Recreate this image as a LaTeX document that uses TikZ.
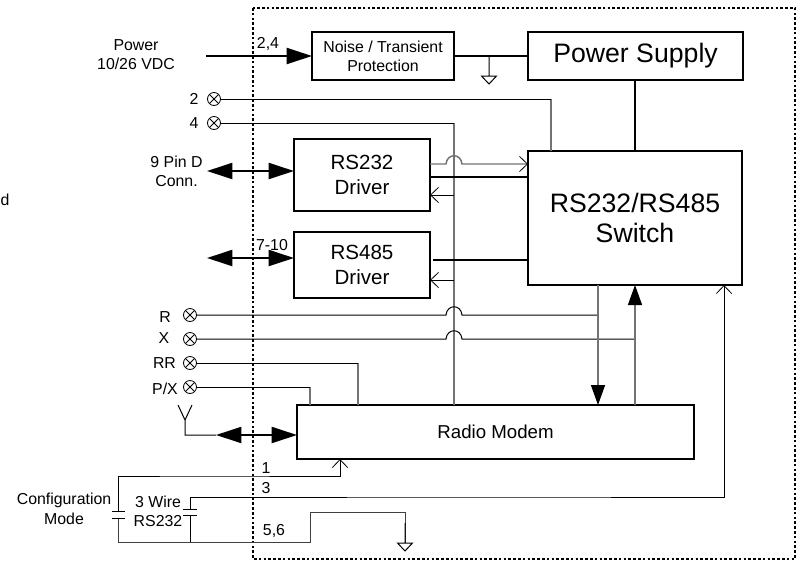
\documentclass[tikz,border=0pt]{standalone}
\usepackage{fontspec}
\setmainfont{Liberation Sans}
\usetikzlibrary{arrows.meta}
\newcommand{\hop}[1]{-- (446,#1) .. controls +(1,-11) and +(-1,-11) .. (462,#1)}

\begin{document}
\begin{tikzpicture}[x=0.75pt, y=-0.75pt,
    main/.style = {draw, line width=1.5pt, inner sep=0pt, outer sep=0pt, align=center},
    drv/.style = {main, minimum width=102pt, minimum height=54pt, font=\fontsize{15.4}{19}\selectfont},
    lbl/.style = {inner sep=0pt, align=center, font=\fontsize{11.9}{14.3}\selectfont},
    pinx/.style = {draw, circle, line width=0.6pt, minimum size=9.75pt, inner sep=0pt, outer sep=0pt,
        path picture={\draw (path picture bounding box.north west) -- (path picture bounding box.south east)
            (path picture bounding box.north east) -- (path picture bounding box.south west);}},
    thin line/.style = {line width=0.75pt},
    gray line/.style = {line width=1.1pt, black!55},
    bold line/.style = {line width=1.5pt},
    open/.style = {-{Straight Barb[length=6pt, width=11.5pt, line width=0.6pt, black]}},
    fat/.style = {-{Triangle[length=15pt, width=10.5pt, black]}},
    fatone/.style = {-{Triangle[length=19pt, width=12pt]}, line width=1.5pt},
    fatboth/.style = {{Triangle[length=19pt, width=12pt]}-{Triangle[length=19pt, width=12pt]}, line width=1.5pt},
    gnd/.pic = {\draw[line width=0.75pt, line join=miter] (0,0) -- (0,20) (-7.5,20) -- (7.5,20) -- (0,28) -- cycle;},
    plate/.style = {line width=0.75pt}]
    \useasboundingbox (0,0) rectangle (796,561);

    \draw[line width=1.5pt, dash pattern=on 1.9pt off 1.7pt] (253,8) rectangle (795,559);

    \node[main, minimum width=106.5pt, minimum height=36pt, font=\fontsize{11.9}{14.3}\selectfont] (noise) at (383,56) {Noise / Transient\\Protection};
    \node[main, minimum width=161.25pt, minimum height=36pt, font=\fontsize{20}{24}\selectfont] (supply) [right of=noise, node distance=189.4pt] {Power Supply};
    \node[drv] (rs232) at (362,175) {RS232\\Driver};
    \node[drv, minimum height=49.5pt] (rs485) [below of=rs232, node distance=67.5pt] {RS485\\Driver};
    \node[main, minimum width=160.5pt, minimum height=100.5pt, font=\fontsize{20}{23}\selectfont] (switch) at (635,218) {RS232/RS485\\Switch};
    \node[main, minimum width=297.75pt, minimum height=40.5pt, font=\fontsize{14}{17}\selectfont] (modem) at (495.5,432) {Radio Modem};

    \node[pinx] (pin2) at (214,99) {};
    \node[pinx] (pin4) [below of=pin2, node distance=18pt] {};
    \node[pinx] (pinR) at (190,315) {};
    \node[pinx] (pinX)  [below of=pinR, node distance=18pt] {};
    \node[pinx] (pinRR) [below of=pinX, node distance=18pt] {};
    \node[pinx] (pinPX) [below of=pinRR, node distance=18pt] {};

    \node[lbl] (l2) [left of=pin2, node distance=15pt] {2};
    \node[lbl] (l4) [left of=pin4, node distance=15pt] {4};
    \node[lbl] (lR) at (165,317) {R};
    \node[lbl] (lX) at (164,338) {X};
    \node[lbl] (lRR) at (164.5,363) {RR};
    \node[lbl] (lPX) at (165,389) {P/X};
    \node[lbl] (power) at (136,54.5) {Power\\10/26 VDC};
    \node[lbl] (dconn) at (176.5,171) {9 Pin D\\Conn.};
    \node[lbl] (cut) at (5,200) {d};
    \node[lbl] (n24) at (268,44) {2,4};
    \node[lbl] (n710) at (272,245) {7-10};
    \node[lbl] (n1) at (266,468) {1};
    \node[lbl] (n3) at (266,488) {3};
    \node[lbl] (n56) at (274,531) {5,6};
    \node[lbl, font=\fontsize{11.9}{15}\selectfont] (config) at (64,509) {Configuration\\Mode};
    \node[lbl] (wire3) at (158,511.5) {3 Wire\\RS232};

    \coordinate (pwr) at (206,56);
    \coordinate (db9) at (207,171);
    \coordinate (bus) at (207,258);
    \coordinate (ant) at (185,435);
    \coordinate (antb) at (216,435);
    \coordinate (sw2) at (551,151);
    \coordinate (cor2) at (551,99);
    \coordinate (bus4) at (454,405);
    \coordinate (cor4) at (454,123);
    \coordinate (rxb) at (598,285);
    \coordinate (txb) at (635,285);
    \coordinate (rrm) at (358,405);
    \coordinate (corRR) at (358,363);
    \coordinate (pxm) at (310,405);
    \coordinate (corPX) at (310,387);
    \coordinate (cfg) at (340,459);
    \coordinate (c3) at (724,285);

    \draw[fatone] (pwr) -- (noise.west);
    \draw[bold line] (noise.east) -- (supply.west);
    \draw[bold line] (supply.south -| switch) -- (switch.north);
    \pic at (489,56) {gnd};

    \draw[fatboth] (db9) -- (db9 -| rs232.west);
    \draw[fatboth] (bus) -- (bus -| rs485.west);
    \draw[fatboth] (antb) -- (antb -| modem.west);
    \draw[thin line] (antb) -- (ant) -- (185,420) -- (178,405) (185,420) -- (192,405);

    \draw[gray line] (cor2) -- (sw2);
    \draw[thin line] (pin2.east) -- (cor2);
    \draw[gray line] (cor4) -- (bus4);
    \draw[thin line] (pin4.east) -- (cor4);

    \draw[gray line, open] (rs232.east |- 0,164) \hop{164} -- (switch.west |- 0,164);
    \draw[bold line] (rs232.east |- 0,177) -- (switch.west |- 0,177);
    \draw[thin line, open] (454,195) -- (rs232.east |- 0,195);
    \draw[bold line, shorten <=2.5pt] (rs485.east |- 0,260) -- (switch.west |- 0,260);
    \draw[thin line, open] (454,280) -- (rs485.east |- 0,280);

    \draw[thin line] (pinR.east) \hop{315} -- (598,315);
    \draw[thin line] (pinX.east) \hop{339} -- (635,339);
    \draw[gray line, fat] (rxb) -- (rxb |- modem.north);
    \draw[gray line, fat] (txb |- modem.north) -- (txb);
    \draw[gray line] (corRR) -- (rrm);
    \draw[thin line] (pinRR.east) -- (corRR);
    \draw[gray line] (corPX) -- (pxm);
    \draw[thin line] (pinPX.east) -- (corPX);

    \draw[thin line, open] (118,511) |- (200,476) -| (cfg);
    \draw[thin line, open] (190,509) |- (500,497) -| (c3);
    \draw[thin line, black!75] (118,518) |- (310,542) |- (405,512) -- (405,543);
    \draw[thin line] (190,515) -- (190,542);
    \draw[plate] (112,511) -- (125,511) (112,518) -- (125,518);
    \draw[plate] (183,509) -- (197,509) (183,515) -- (197,515);
    \pic at (405,523) {gnd};
\end{tikzpicture}
\end{document}
